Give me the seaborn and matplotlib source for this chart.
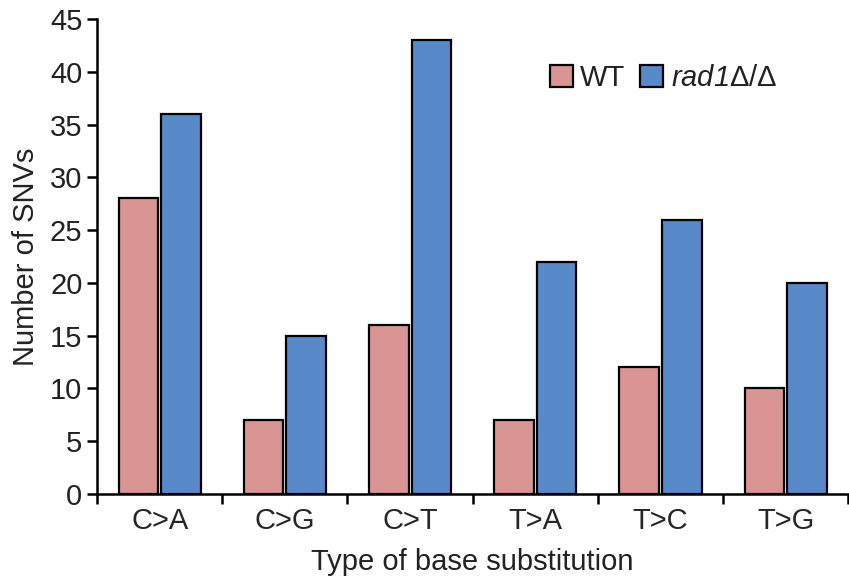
import seaborn as sns
import pandas as pd
import matplotlib.pyplot as plt

substitutions = ["C>A", "C>G", "C>T", "T>A", "T>C", "T>G"]
wt_counts = [28, 7, 16, 7, 12, 10]
rad1_counts = [36, 15, 43, 22, 26, 20]
strains = ["WT", "rad1"]
strain_labels = ["WT", r"$\mathbf{rad1}$Δ/Δ"]
y_ticks = list(range(0, 46, 5))

data = pd.DataFrame({
    "substitution": substitutions * 2,
    "count": wt_counts + rad1_counts,
    "strain": [strains[0]] * len(substitutions) + [strains[1]] * len(substitutions),
})

sns.set_style("ticks")
plt.rcParams["font.family"] = ["Liberation Sans", "DejaVu Sans"]
plt.rcParams["mathtext.fontset"] = "custom"
# italic incl. digits: mathtext drops digits to roman under \mathit
plt.rcParams["mathtext.bf"] = "Liberation Sans:italic"
plt.rcParams["mathtext.rm"] = "Liberation Sans"

fig = plt.figure(figsize=(8.49, 5.82), dpi=100)
ax = fig.add_axes([0.1143, 0.1512, 0.885, 0.8162])

sns.barplot(data=data, x="substitution", y="count", hue="strain",
            palette=["#d99594", "#5889c8"], saturation=1, width=0.68,
            edgecolor="black", linewidth=1.6, ax=ax)

# leave a small gap between the paired bars
for p in ax.patches:
    w = p.get_width()
    if w > 0:
        p.set_x(p.get_x() + 0.012)
        p.set_width(w - 0.024)

ax.set_xlim(-0.5, 5.5)
ax.set_ylim(0, 45)
ax.set_yticks(y_ticks)
ax.set_xticks([i - 0.5 for i in range(len(substitutions) + 1)], minor=False)
ax.set_xticklabels([""] * (len(substitutions) + 1))
ax.set_xticks(range(len(substitutions)), minor=True)
ax.set_xticklabels(substitutions, minor=True)
ax.tick_params(axis="x", which="minor", length=0, labelsize=21, pad=9)
ax.tick_params(axis="both", which="major", length=7, width=1.8,
               color="black", labelsize=21, labelcolor="#222222")
ax.set_xlabel("Type of base substitution", fontsize=21, color="#222222", labelpad=10)
ax.set_ylabel("Number of SNVs", fontsize=21, color="#222222", labelpad=7)

sns.despine(ax=ax)
for side in ["left", "bottom"]:
    ax.spines[side].set_linewidth(1.8)
    ax.spines[side].set_color("black")

handles, _ = ax.get_legend_handles_labels()
ax.legend(handles, strain_labels, loc="upper right", bbox_to_anchor=(0.94, 0.96),
          ncol=2, frameon=False, fontsize=21, handlelength=0.8, handleheight=0.8,
          handletextpad=0.25, columnspacing=0.5, labelcolor="#222222")

plt.savefig("out.png", dpi=100)
